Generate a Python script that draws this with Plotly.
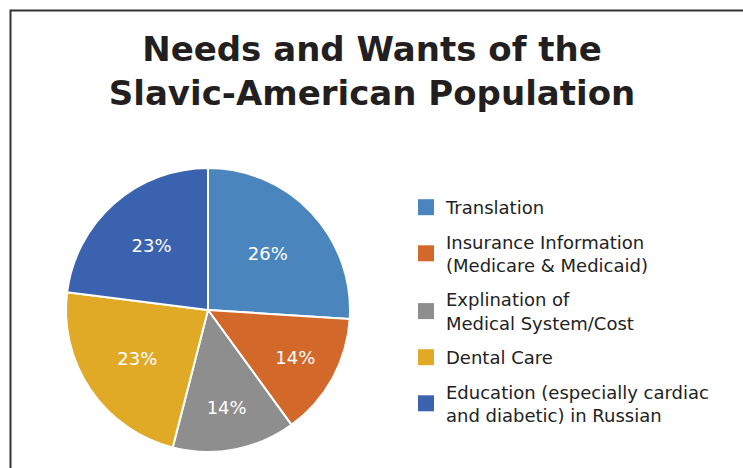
import plotly.graph_objects as go

categories = [
    "Translation",
    "Insurance Information<br>(Medicare & Medicaid)",
    "Explination of<br>Medical System/Cost",
    "Dental Care",
    "Education (especially cardiac<br>and diabetic) in Russian",
]
values = [26, 14, 14, 23, 23]
colors = ["#4a86bd", "#d2692a", "#8e8e8e", "#e0a926", "#3b62ae"]

W, H = 743, 468
fig = go.Figure()
fig.add_trace(go.Pie(
    labels=categories,
    values=values,
    sort=False,
    direction="clockwise",
    rotation=0,
    marker=dict(colors=colors, line=dict(color="white", width=2)),
    textinfo="percent",
    textposition="inside",
    insidetextorientation="horizontal",
    insidetextfont=dict(color="white", size=18, family="DejaVu Sans"),
    domain=dict(x=[66 / W, 350 / W], y=[1 - 452 / H, 1 - 168 / H]),
    hoverinfo="label+percent",
    showlegend=False,
))

# legend entries (one per category, matching slice colours)
for cat, col in zip(categories, colors):
    fig.add_trace(go.Scatter(
        x=[None], y=[None], mode="markers",
        marker=dict(symbol="square", size=16, color=col),
        name=cat, legendgroup=cat, showlegend=True, hoverinfo="skip",
    ))

fig.update_layout(
    width=W, height=H,
    margin=dict(l=0, r=0, t=0, b=0),
    paper_bgcolor="white",
    plot_bgcolor="white",
    xaxis=dict(visible=False, domain=[0.55, 1]),
    yaxis=dict(visible=False),
    font=dict(family="DejaVu Sans", color="#222222"),
    title=dict(
        text="<b>Needs and Wants of the<br>Slavic-American Population</b>",
        x=372 / W, xanchor="center",
        y=1 - 61 / H, yanchor="top",
        font=dict(size=34, color="#231f20", family="DejaVu Sans"),
    ),
    legend=dict(
        x=406 / W, xanchor="left",
        y=1 - 189 / H, yanchor="top",
        font=dict(size=18, color="#222222", family="DejaVu Sans"),
        bgcolor="rgba(0,0,0,0)",
        tracegroupgap=8,
        itemsizing="trace",
    ),
    shapes=[dict(
        type="rect", xref="paper", yref="paper",
        x0=10.5 / W, x1=1.02, y0=-0.02, y1=1 - 10.5 / H,
        line=dict(color="#333333", width=2),
    )],
)

fig.write_html("out.html", config={"displayModeBar": False},
               post_script="document.body.style.margin='0';")
